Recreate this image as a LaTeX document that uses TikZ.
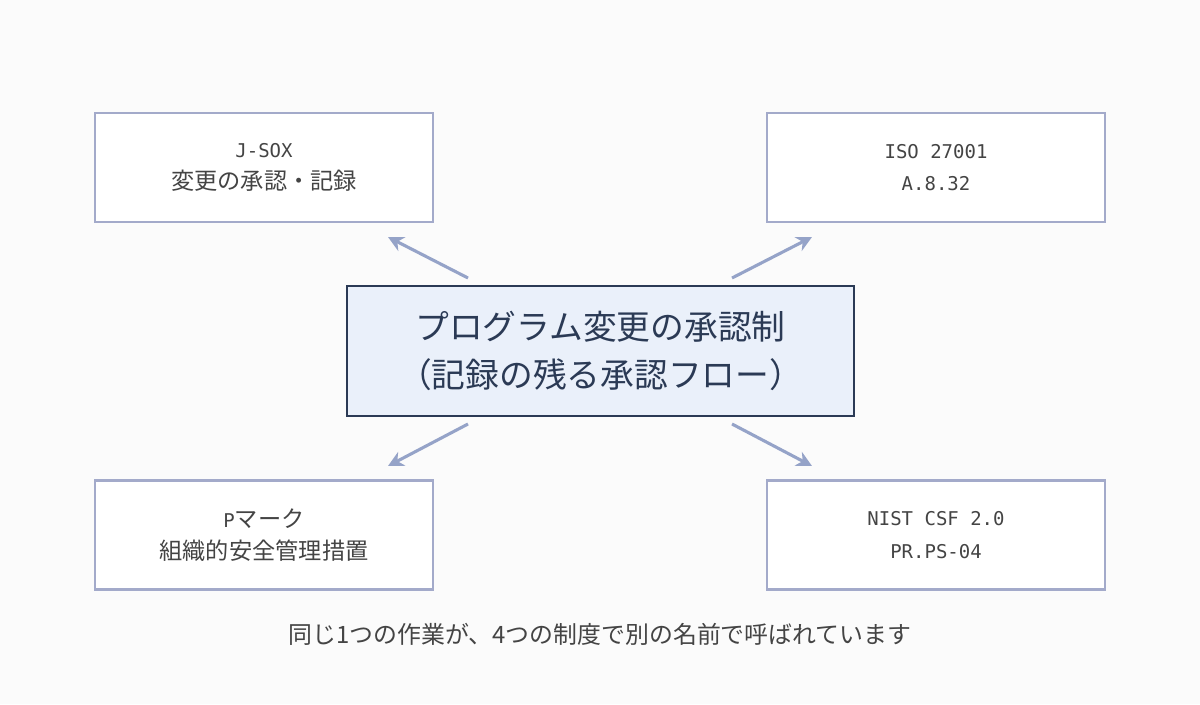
\documentclass[tikz,border=0pt]{standalone}
\usepackage{fontspec}
\setmainfont{Noto Sans CJK JP}
\newfontfamily\mono{DejaVu Sans Mono}
\newcommand{\mt}[1]{{\mono\fontsize{13.5}{23}\selectfont #1}}
\usetikzlibrary{arrows.meta}
\definecolor{bg}{HTML}{FBFBFB}
\definecolor{sbd}{HTML}{A3AACA}
\definecolor{cbd}{HTML}{2B3A55}
\definecolor{cfill}{HTML}{EAF0FA}
\definecolor{arr}{HTML}{95A3C8}
\definecolor{txt}{HTML}{444444}
\begin{document}
\begin{tikzpicture}[x=0.025cm,y=-0.025cm,
  sbox/.style={draw=sbd,line width=1.6pt,fill=white,minimum width=338*0.025cm,minimum height=109*0.025cm,align=center,text=txt,font=\fontsize{16.5}{23}\selectfont},
  cbox/.style={draw=cbd,line width=1.8pt,fill=cfill,minimum width=507*0.025cm,minimum height=130*0.025cm,align=center,text=cbd,font=\fontsize{24}{34}\selectfont},
  ar/.style={draw=arr,line width=2.2pt,-{Stealth[length=11pt,width=11pt]}}]
\fill[bg] (0,0) rectangle (1200,704);
\node[sbox] (a) at (264,167.5) {\mt{J-SOX}\\変更の承認・記録};
\node[sbox] (b) at (936,167.5) {\mt{ISO 27001}\\\mt{A.8.32}};
\node[sbox] (c) at (264,535) {\mt{P}マーク\\組織的安全管理措置};
\node[sbox] (d) at (936,535) {\mt{NIST CSF 2.0}\\\mt{PR.PS-04}};
\node[cbox] (m) at (600.5,351) {プログラム変更の承認制\\（記録の残る承認フロー）};
\coordinate (a0) at (468,278); \coordinate (a1) at (388,237);
\coordinate (b0) at (732,278); \coordinate (b1) at (812,237);
\coordinate (c0) at (468,424); \coordinate (c1) at (388,466);
\coordinate (d0) at (732,424); \coordinate (d1) at (812,466);
\draw[ar] (a0)--(a1); \draw[ar] (b0)--(b1);
\draw[ar] (c0)--(c1); \draw[ar] (d0)--(d1);
\node[text=txt,font=\fontsize{17}{20}\selectfont] (cap) at (600,634) {同じ1つの作業が、4つの制度で別の名前で呼ばれています};
\end{tikzpicture}
\end{document}
